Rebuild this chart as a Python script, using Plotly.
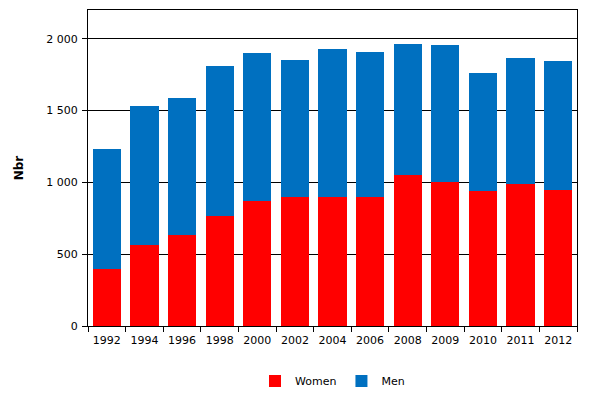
import plotly.graph_objects as go

years = ["1992", "1994", "1996", "1998", "2000", "2002", "2004",
         "2006", "2008", "2009", "2010", "2011", "2012"]
women = [400, 564, 633, 763, 870, 898, 898, 898, 1051, 1000, 940, 986, 944]
men = [830, 965, 952, 1044, 1028, 951, 1028, 1007, 910, 954, 819, 877, 898]

font = dict(family="DejaVu Sans, Verdana, sans-serif", size=11, color="black")

trace1 = go.Bar(x=years, y=women, name="Women", marker=dict(color="#FF0000", line=dict(width=0)))
trace2 = go.Bar(x=years, y=men, name="Men", marker=dict(color="#0070C0", line=dict(width=0)))

# page body has an 8px margin, so the figure is a bit smaller than the window
layout = go.Layout(
    barmode="stack",
    bargap=0.25,
    width=599, height=410,
    margin=dict(l=80, r=30, t=2, b=92),
    paper_bgcolor="white", plot_bgcolor="white",
    font=font,
    separators=". ",
    showlegend=True,
    legend=dict(orientation="h", x=0.5, xanchor="center", y=-0.174, yanchor="middle",
                font=font, itemwidth=30, traceorder="normal"),
    xaxis=dict(showline=True, linecolor="black", linewidth=1, mirror=True,
               ticks="outside", tickson="boundaries", ticklen=5, tickcolor="black",
               ticklabelstandoff=4, showgrid=False, automargin=False),
    yaxis=dict(range=[0, 2200], tickvals=[0, 500, 1000, 1500, 2000],
               separatethousands=True, showline=True, linecolor="black", linewidth=1,
               mirror=True, ticks="outside", ticklen=5, tickcolor="black",
               ticklabelstandoff=2,
               showgrid=True, gridcolor="black", gridwidth=1, zeroline=False,
               automargin=False,
               title=dict(text="<b>Nbr</b>", standoff=20, font=dict(size=12))),
)

fig = go.Figure(data=[trace1, trace2], layout=layout)
fig.write_html("out.html")
